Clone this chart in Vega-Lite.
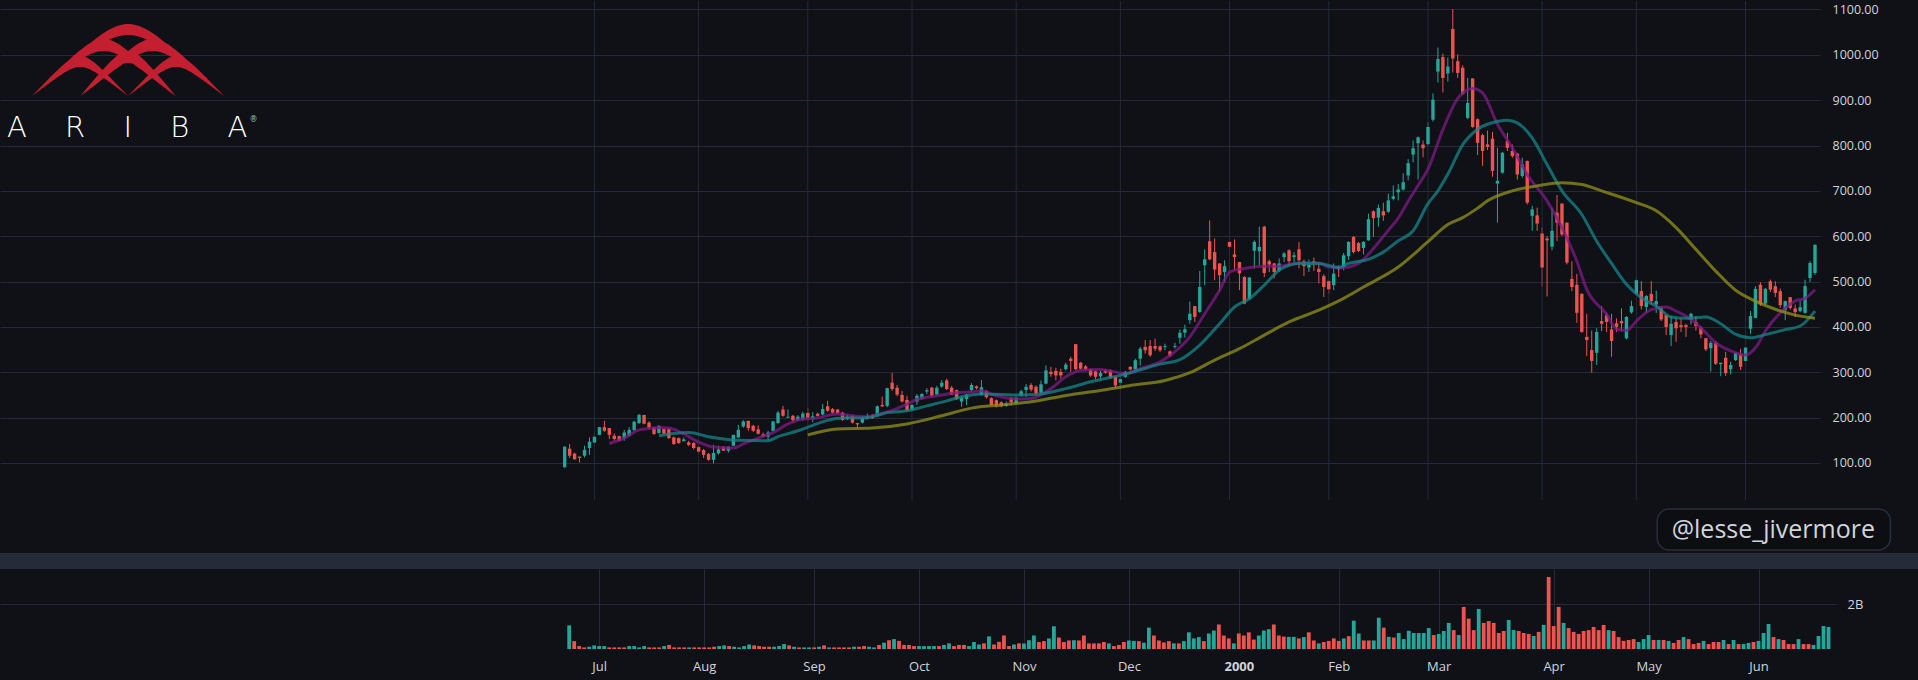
{
  "$schema": "https://vega.github.io/schema/vega-lite/v6.json",
  "background": "#0f1116",
  "padding": 0,
  "spacing": 0,
  "bounds": "flush",
  "config": {
    "view": {"stroke": null},
    "font": "Open Sans",
    "axis": {"domain": false, "ticks": false, "gridColor": "#252a36", "gridWidth": 1, "labelColor": "#d1d4dc", "labelFont": "Open Sans"}
  },
  "datasets": {
    "months": [{"i": 6, "lo": 18.4, "hi": 1118.7}, {"i": 27, "lo": 18.4, "hi": 1118.7}, {"i": 49, "lo": 18.4, "hi": 1118.7}, {"i": 70, "lo": 18.4, "hi": 1118.7}, {"i": 91, "lo": 18.4, "hi": 1118.7}, {"i": 112, "lo": 18.4, "hi": 1118.7}, {"i": 134, "lo": 18.4, "hi": 1118.7}, {"i": 154, "lo": 18.4, "hi": 1118.7}, {"i": 174, "lo": 18.4, "hi": 1118.7}, {"i": 197, "lo": 18.4, "hi": 1118.7}, {"i": 216, "lo": 18.4, "hi": 1118.7}, {"i": 238, "lo": 18.4, "hi": 1118.7}],
    "bars": [
      {"i":0,"o":90.5,"h":136,"l":90,"c":136,"v":1.05},
      {"i":1,"o":131.5,"h":142,"l":111,"c":116,"v":0.35},
      {"i":2,"o":120.5,"h":123,"l":108,"c":108,"v":0.13},
      {"i":3,"o":114,"h":114,"l":101,"c":111,"v":0.07},
      {"i":4,"o":116,"h":138,"l":112,"c":129,"v":0.1},
      {"i":5,"o":133,"h":156.5,"l":118,"c":147,"v":0.16},
      {"i":6,"o":145,"h":166,"l":138,"c":158,"v":0.13},
      {"i":7,"o":162,"h":179,"l":161,"c":179,"v":0.13},
      {"i":8,"o":179,"h":193,"l":168.5,"c":171,"v":0.07},
      {"i":9,"o":177,"h":177,"l":153,"c":162,"v":0.07},
      {"i":10,"o":160,"h":165,"l":149,"c":153,"v":0.07},
      {"i":11,"o":159,"h":160,"l":148,"c":149,"v":0.07},
      {"i":12,"o":154,"h":173,"l":149,"c":167,"v":0.13},
      {"i":13,"o":160,"h":179,"l":158,"c":173,"v":0.13},
      {"i":14,"o":172.5,"h":193,"l":171,"c":191,"v":0.07},
      {"i":15,"o":188,"h":208,"l":186,"c":206,"v":0.13},
      {"i":16,"o":206,"h":206,"l":185,"c":186.5,"v":0.07},
      {"i":17,"o":189,"h":192,"l":175,"c":178,"v":0.07},
      {"i":18,"o":178,"h":179.5,"l":162,"c":164,"v":0.07},
      {"i":19,"o":166,"h":183,"l":165,"c":182,"v":0.13},
      {"i":20,"o":175.5,"h":177,"l":163,"c":165,"v":0.18},
      {"i":21,"o":175.5,"h":175.5,"l":153,"c":155,"v":0.07},
      {"i":22,"o":156.5,"h":158,"l":140,"c":142,"v":0.07},
      {"i":23,"o":155,"h":156.5,"l":142,"c":144,"v":0.07},
      {"i":24,"o":148,"h":156.5,"l":148,"c":152,"v":0.07},
      {"i":25,"o":145.5,"h":149,"l":137,"c":140,"v":0.07},
      {"i":26,"o":144,"h":146,"l":130,"c":133,"v":0.07},
      {"i":27,"o":135,"h":137.5,"l":122,"c":125,"v":0.07},
      {"i":28,"o":128.5,"h":131,"l":111,"c":118,"v":0.07},
      {"i":29,"o":120,"h":122,"l":105,"c":107,"v":0.1},
      {"i":30,"o":107,"h":140,"l":99,"c":122,"v":0.13},
      {"i":31,"o":121,"h":138,"l":119,"c":130,"v":0.16},
      {"i":32,"o":134.5,"h":137.5,"l":127,"c":127,"v":0.13},
      {"i":33,"o":127,"h":136,"l":123,"c":136,"v":0.1},
      {"i":34,"o":138,"h":162,"l":138,"c":162,"v":0.07},
      {"i":35,"o":156.5,"h":184,"l":155,"c":173,"v":0.13},
      {"i":36,"o":180.5,"h":194.5,"l":177.5,"c":191.5,"v":0.2},
      {"i":37,"o":193,"h":193,"l":171,"c":177,"v":0.16},
      {"i":38,"o":182,"h":184,"l":168.5,"c":171,"v":0.13},
      {"i":39,"o":174,"h":183,"l":163,"c":164.5,"v":0.1},
      {"i":40,"o":163,"h":167,"l":156.5,"c":158,"v":0.1},
      {"i":41,"o":158,"h":171,"l":149,"c":167,"v":0.1},
      {"i":42,"o":171,"h":193,"l":169.5,"c":191.5,"v":0.13},
      {"i":43,"o":188,"h":215,"l":186.5,"c":211,"v":0.22},
      {"i":44,"o":218,"h":226,"l":202,"c":204,"v":0.16},
      {"i":45,"o":200,"h":218,"l":199,"c":202,"v":0.1},
      {"i":46,"o":204,"h":206,"l":189,"c":194.5,"v":0.07},
      {"i":47,"o":194.5,"h":205.5,"l":193,"c":202,"v":0.07},
      {"i":48,"o":197,"h":213,"l":193,"c":209,"v":0.07},
      {"i":49,"o":210.5,"h":221,"l":193,"c":199,"v":0.07},
      {"i":50,"o":198,"h":212,"l":190,"c":203,"v":0.1},
      {"i":51,"o":208.5,"h":211,"l":202,"c":204,"v":0.16},
      {"i":52,"o":207,"h":230,"l":205,"c":219,"v":0.07},
      {"i":53,"o":225,"h":237,"l":213,"c":215,"v":0.07},
      {"i":54,"o":219,"h":221,"l":209,"c":211,"v":0.07},
      {"i":55,"o":218,"h":218,"l":209,"c":210,"v":0.07},
      {"i":56,"o":211,"h":213,"l":193,"c":195,"v":0.07},
      {"i":57,"o":198,"h":207.5,"l":195,"c":202,"v":0.1},
      {"i":58,"o":204,"h":206,"l":187,"c":189,"v":0.1},
      {"i":59,"o":188,"h":188,"l":178,"c":185,"v":0.13},
      {"i":60,"o":189,"h":204,"l":187,"c":198.5,"v":0.1},
      {"i":61,"o":198.5,"h":209,"l":196,"c":204,"v":0.07},
      {"i":62,"o":204,"h":208,"l":197,"c":199,"v":0.18},
      {"i":63,"o":204,"h":227,"l":202,"c":225,"v":0.28},
      {"i":64,"o":228,"h":246.5,"l":223,"c":225,"v":0.39},
      {"i":65,"o":226,"h":266,"l":223,"c":265,"v":0.44},
      {"i":66,"o":277,"h":298.5,"l":259,"c":263,"v":0.36},
      {"i":67,"o":266,"h":272,"l":247,"c":251,"v":0.18},
      {"i":68,"o":250,"h":259,"l":233.5,"c":235.5,"v":0.18},
      {"i":69,"o":239,"h":248,"l":213.5,"c":216.5,"v":0.13},
      {"i":70,"o":217.5,"h":229.5,"l":214,"c":228,"v":0.13},
      {"i":71,"o":235.5,"h":252,"l":228,"c":248,"v":0.13},
      {"i":72,"o":242,"h":254,"l":240,"c":252,"v":0.13},
      {"i":73,"o":257.5,"h":265,"l":252,"c":260.5,"v":0.13},
      {"i":74,"o":266,"h":268,"l":246,"c":248,"v":0.13},
      {"i":75,"o":251,"h":270,"l":250,"c":266,"v":0.18},
      {"i":76,"o":268.5,"h":283,"l":266,"c":277,"v":0.25},
      {"i":77,"o":282,"h":286,"l":261,"c":263,"v":0.13},
      {"i":78,"o":266,"h":270,"l":250,"c":251,"v":0.18},
      {"i":79,"o":260.5,"h":262,"l":238.5,"c":241,"v":0.18},
      {"i":80,"o":235.5,"h":248,"l":224,"c":244,"v":0.13},
      {"i":81,"o":241,"h":252,"l":227.5,"c":250.5,"v":0.31},
      {"i":82,"o":261,"h":276,"l":257.5,"c":272,"v":0.2},
      {"i":83,"o":269,"h":271,"l":262,"c":265,"v":0.25},
      {"i":84,"o":250,"h":283,"l":249,"c":267,"v":0.56},
      {"i":85,"o":258,"h":260.5,"l":242,"c":245,"v":0.2},
      {"i":86,"o":243,"h":245,"l":227,"c":228,"v":0.32},
      {"i":87,"o":238.5,"h":240,"l":222.5,"c":227,"v":0.6},
      {"i":88,"o":234,"h":235.5,"l":223,"c":225.5,"v":0.13},
      {"i":89,"o":226,"h":235.5,"l":224,"c":230,"v":0.2},
      {"i":90,"o":243,"h":245,"l":227,"c":234,"v":0.25},
      {"i":91,"o":232,"h":250,"l":229,"c":244,"v":0.25},
      {"i":92,"o":249,"h":261.5,"l":247,"c":258,"v":0.39},
      {"i":93,"o":261,"h":274,"l":246,"c":268,"v":0.6},
      {"i":94,"o":272,"h":276,"l":257.5,"c":262,"v":0.31},
      {"i":95,"o":268,"h":271,"l":251,"c":254,"v":0.35},
      {"i":96,"o":255,"h":282,"l":253,"c":273.5,"v":0.47},
      {"i":97,"o":275,"h":315,"l":273.5,"c":304,"v":1.01},
      {"i":98,"o":301,"h":312,"l":290,"c":296,"v":0.51},
      {"i":99,"o":303,"h":310,"l":282,"c":293,"v":0.31},
      {"i":100,"o":301,"h":308,"l":286,"c":293,"v":0.38},
      {"i":101,"o":307,"h":321,"l":304,"c":317,"v":0.39},
      {"i":102,"o":330,"h":334,"l":301,"c":325,"v":0.38},
      {"i":103,"o":362,"h":362,"l":304,"c":307,"v":0.6},
      {"i":104,"o":321,"h":323,"l":306,"c":308,"v":0.25},
      {"i":105,"o":313,"h":316,"l":303,"c":306,"v":0.25},
      {"i":106,"o":307,"h":308,"l":290,"c":293,"v":0.25},
      {"i":107,"o":302,"h":304,"l":285,"c":290,"v":0.31},
      {"i":108,"o":291,"h":303,"l":284,"c":298.5,"v":0.25},
      {"i":109,"o":304,"h":306,"l":297,"c":299,"v":0.13},
      {"i":110,"o":304,"h":306,"l":286,"c":288,"v":0.18},
      {"i":111,"o":290,"h":291,"l":264,"c":271,"v":0.31},
      {"i":112,"o":277,"h":290,"l":262.5,"c":285,"v":0.38},
      {"i":113,"o":290,"h":303,"l":288,"c":301,"v":0.36},
      {"i":114,"o":312,"h":313,"l":304,"c":306,"v":0.35},
      {"i":115,"o":306,"h":330,"l":304,"c":326.5,"v":0.28},
      {"i":116,"o":330,"h":356,"l":315,"c":352,"v":0.95},
      {"i":117,"o":356,"h":371,"l":341,"c":348.5,"v":0.6},
      {"i":118,"o":358,"h":371,"l":334,"c":337.5,"v":0.38},
      {"i":119,"o":358,"h":374,"l":347,"c":352,"v":0.29},
      {"i":120,"o":357,"h":359,"l":345,"c":348.5,"v":0.35},
      {"i":121,"o":356,"h":363,"l":348.5,"c":358,"v":0.25},
      {"i":122,"o":346,"h":348,"l":334,"c":336,"v":0.25},
      {"i":123,"o":356,"h":365,"l":352,"c":358,"v":0.35},
      {"i":124,"o":376,"h":394,"l":363,"c":387,"v":0.74},
      {"i":125,"o":387.5,"h":405,"l":376.5,"c":395,"v":0.47},
      {"i":126,"o":415,"h":456,"l":407,"c":429,"v":0.53},
      {"i":127,"o":446,"h":446,"l":411,"c":422,"v":0.35},
      {"i":128,"o":433,"h":523.5,"l":431,"c":488,"v":0.69},
      {"i":129,"o":536,"h":571,"l":492,"c":549,"v":0.82},
      {"i":130,"o":589,"h":635,"l":547,"c":549,"v":1.09},
      {"i":131,"o":565,"h":595,"l":503,"c":526.5,"v":0.6},
      {"i":132,"o":540,"h":540,"l":479,"c":514,"v":0.47},
      {"i":133,"o":521,"h":547,"l":499,"c":534,"v":0.25},
      {"i":134,"o":587.5,"h":587.5,"l":480,"c":576.5,"v":0.69},
      {"i":135,"o":560,"h":593,"l":525,"c":554,"v":0.6},
      {"i":136,"o":543,"h":543,"l":481,"c":518,"v":0.74},
      {"i":137,"o":510,"h":512,"l":450,"c":451.5,"v":0.42},
      {"i":138,"o":462.5,"h":510,"l":460,"c":509,"v":0.6},
      {"i":139,"o":568,"h":591,"l":529,"c":587.5,"v":0.82},
      {"i":140,"o":567,"h":621,"l":536,"c":576.5,"v":0.88},
      {"i":141,"o":621,"h":623,"l":510,"c":519,"v":1.09},
      {"i":142,"o":545,"h":548.5,"l":521,"c":537.5,"v":0.6},
      {"i":143,"o":540,"h":541,"l":507,"c":521,"v":0.55},
      {"i":144,"o":525,"h":551,"l":521,"c":540,"v":0.54},
      {"i":145,"o":554,"h":565,"l":543,"c":562,"v":0.54},
      {"i":146,"o":569,"h":571,"l":534,"c":545,"v":0.47},
      {"i":147,"o":554,"h":565,"l":543,"c":558,"v":0.53},
      {"i":148,"o":571,"h":587.5,"l":529,"c":547,"v":0.74},
      {"i":149,"o":545,"h":548.5,"l":512,"c":534,"v":0.38},
      {"i":150,"o":531,"h":548.5,"l":521,"c":537.5,"v":0.25},
      {"i":151,"o":545,"h":553,"l":523.5,"c":540,"v":0.31},
      {"i":152,"o":528,"h":540,"l":496,"c":521,"v":0.36},
      {"i":153,"o":512,"h":516,"l":466,"c":488,"v":0.47},
      {"i":154,"o":501,"h":503,"l":473.5,"c":483,"v":0.36},
      {"i":155,"o":492,"h":540,"l":481,"c":517.5,"v":0.47},
      {"i":156,"o":532,"h":536,"l":510,"c":527,"v":0.57},
      {"i":157,"o":532,"h":563,"l":525,"c":558,"v":1.26},
      {"i":158,"o":556,"h":589,"l":547,"c":587.5,"v":0.69},
      {"i":159,"o":598.5,"h":600,"l":562,"c":565,"v":0.38},
      {"i":160,"o":585,"h":587.5,"l":565,"c":567.5,"v":0.38},
      {"i":161,"o":574,"h":589,"l":560,"c":587.5,"v":0.38},
      {"i":162,"o":591,"h":650,"l":590,"c":637.5,"v":1.39},
      {"i":163,"o":655,"h":657,"l":598.5,"c":640,"v":0.95},
      {"i":164,"o":641,"h":670,"l":621,"c":662.5,"v":0.54},
      {"i":165,"o":655,"h":674,"l":634,"c":646,"v":0.51},
      {"i":166,"o":654,"h":694,"l":651.5,"c":679,"v":0.71},
      {"i":167,"o":682.4,"h":712,"l":679,"c":688,"v":0.44},
      {"i":168,"o":697,"h":715,"l":679,"c":703,"v":0.81},
      {"i":169,"o":703,"h":739,"l":701,"c":719,"v":0.71},
      {"i":170,"o":734,"h":770,"l":723,"c":761,"v":0.71},
      {"i":171,"o":780,"h":811,"l":763,"c":794,"v":0.71},
      {"i":172,"o":805,"h":820,"l":725,"c":818,"v":0.93},
      {"i":173,"o":802,"h":811,"l":774,"c":794,"v":0.62},
      {"i":174,"o":803,"h":851,"l":800,"c":841,"v":0.67},
      {"i":175,"o":857,"h":915,"l":853,"c":901,"v":0.8},
      {"i":176,"o":963,"h":1016,"l":939,"c":991,"v":1.16},
      {"i":177,"o":995,"h":1003,"l":917,"c":949,"v":0.84},
      {"i":178,"o":959,"h":994,"l":941,"c":974,"v":0.62},
      {"i":179,"o":1057,"h":1101,"l":961,"c":992,"v":1.87},
      {"i":180,"o":986,"h":1001,"l":949,"c":960,"v":1.35},
      {"i":181,"o":971.5,"h":977,"l":911,"c":914,"v":0.84},
      {"i":182,"o":861,"h":949,"l":858,"c":894,"v":1.78},
      {"i":183,"o":948,"h":948,"l":839,"c":841,"v":1.16},
      {"i":184,"o":858,"h":860,"l":779,"c":806,"v":1.24},
      {"i":185,"o":823,"h":826,"l":755,"c":788,"v":1.16},
      {"i":186,"o":802.5,"h":833,"l":790,"c":797,"v":0.71},
      {"i":187,"o":815,"h":830,"l":731,"c":744,"v":0.8},
      {"i":188,"o":716,"h":795,"l":630,"c":722,"v":1.29},
      {"i":189,"o":740,"h":786,"l":738,"c":784,"v":0.84},
      {"i":190,"o":810,"h":828,"l":788,"c":795,"v":0.8},
      {"i":191,"o":788,"h":802.5,"l":773,"c":777,"v":0.71},
      {"i":192,"o":782,"h":784,"l":725,"c":736,"v":0.67},
      {"i":193,"o":733,"h":773,"l":729,"c":758.5,"v":0.58},
      {"i":194,"o":766,"h":767,"l":670,"c":674,"v":0.76},
      {"i":195,"o":645,"h":667,"l":612,"c":659,"v":1.07},
      {"i":196,"o":646,"h":663,"l":612,"c":628,"v":3.2},
      {"i":197,"o":606,"h":619,"l":489,"c":531,"v":1.02},
      {"i":198,"o":595,"h":600,"l":467,"c":591,"v":1.87},
      {"i":199,"o":577,"h":663,"l":569,"c":612,"v":1.16},
      {"i":200,"o":652,"h":691,"l":589.5,"c":630,"v":0.93},
      {"i":201,"o":672,"h":672,"l":600.5,"c":604,"v":0.76},
      {"i":202,"o":630,"h":630,"l":538,"c":542,"v":0.67},
      {"i":203,"o":506,"h":545,"l":479,"c":488,"v":0.8},
      {"i":204,"o":493,"h":517,"l":409,"c":431,"v":0.84},
      {"i":205,"o":473,"h":474,"l":387,"c":389,"v":0.98},
      {"i":206,"o":378,"h":429,"l":336,"c":371,"v":0.84},
      {"i":207,"o":349,"h":392,"l":299,"c":325,"v":1.07},
      {"i":208,"o":343,"h":397,"l":316,"c":389,"v":0.84},
      {"i":209,"o":413,"h":446,"l":391,"c":407,"v":0.8},
      {"i":210,"o":426,"h":431,"l":389,"c":411,"v":0.53},
      {"i":211,"o":394.5,"h":429,"l":334,"c":369,"v":0.36},
      {"i":212,"o":408,"h":419,"l":389,"c":400,"v":0.4},
      {"i":213,"o":413,"h":441,"l":391,"c":408,"v":0.44},
      {"i":214,"o":375,"h":424,"l":372.5,"c":422,"v":0.31},
      {"i":215,"o":432,"h":458,"l":429,"c":446,"v":0.44},
      {"i":216,"o":473,"h":509.5,"l":470,"c":503,"v":0.62},
      {"i":217,"o":479,"h":501,"l":438.5,"c":446,"v":0.4},
      {"i":218,"o":444,"h":470,"l":431,"c":468,"v":0.4},
      {"i":219,"o":473,"h":501,"l":449.5,"c":457,"v":0.4},
      {"i":220,"o":449.5,"h":480,"l":431,"c":457,"v":0.36},
      {"i":221,"o":442,"h":446,"l":413,"c":416.5,"v":0.27},
      {"i":222,"o":426,"h":426,"l":382,"c":400,"v":0.4},
      {"i":223,"o":382,"h":424,"l":358,"c":407,"v":0.53},
      {"i":224,"o":411,"h":420,"l":367,"c":397,"v":0.44},
      {"i":225,"o":404,"h":419,"l":389,"c":400,"v":0.22},
      {"i":226,"o":404,"h":407,"l":378,"c":400,"v":0.27},
      {"i":227,"o":416,"h":431,"l":405.5,"c":429,"v":0.36},
      {"i":228,"o":411,"h":424,"l":392,"c":402,"v":0.22},
      {"i":229,"o":398,"h":402,"l":375,"c":383.5,"v":0.31},
      {"i":230,"o":375,"h":376,"l":347,"c":350.5,"v":0.31},
      {"i":231,"o":353,"h":369,"l":301.5,"c":365,"v":0.4},
      {"i":232,"o":365,"h":369,"l":316,"c":319,"v":0.22},
      {"i":233,"o":318,"h":321,"l":292,"c":321,"v":0.4},
      {"i":234,"o":332,"h":345,"l":292,"c":298,"v":0.22},
      {"i":235,"o":306.6,"h":323.5,"l":295.6,"c":316,"v":0.22},
      {"i":236,"o":327,"h":343,"l":325,"c":343,"v":0.27},
      {"i":237,"o":340,"h":352,"l":305,"c":312,"v":0.31},
      {"i":238,"o":325,"h":356,"l":314,"c":354.6,"v":0.36},
      {"i":239,"o":396,"h":435,"l":385,"c":424,"v":0.71},
      {"i":240,"o":420,"h":490,"l":419,"c":484,"v":1.11},
      {"i":241,"o":493,"h":498.5,"l":446,"c":449.5,"v":0.53},
      {"i":242,"o":451.6,"h":486,"l":448,"c":484,"v":0.44},
      {"i":243,"o":500.7,"h":504.4,"l":477,"c":482.4,"v":0.4},
      {"i":244,"o":489.7,"h":500.7,"l":465.6,"c":475,"v":0.22},
      {"i":245,"o":478.8,"h":484.6,"l":442,"c":448,"v":0.22},
      {"i":246,"o":437,"h":458,"l":415,"c":457,"v":0.44},
      {"i":247,"o":465.6,"h":465.6,"l":438.5,"c":442,"v":0.22},
      {"i":248,"o":440.7,"h":449.5,"l":421.6,"c":432.6,"v":0.22},
      {"i":249,"o":434.8,"h":456.8,"l":432.6,"c":443.6,"v":0.18},
      {"i":250,"o":431,"h":504,"l":429,"c":490,"v":0.58},
      {"i":251,"o":508,"h":545,"l":499,"c":541,"v":1.02},
      {"i":252,"o":519,"h":582,"l":515,"c":581,"v":0.98}
    ],
    "ma": [
      {"s":"p","i":9,"m":143},{"s":"p","i":12,"m":155},{"s":"p","i":15,"m":173},{"s":"p","i":17,"m":176},{"s":"p","i":19,"m":178},{"s":"p","i":21,"m":177},{"s":"p","i":24,"m":164},{"s":"p","i":27,"m":146},{"s":"p","i":30,"m":135},{"s":"p","i":34,"m":133},{"s":"p","i":36,"m":142},{"s":"p","i":39,"m":155},{"s":"p","i":42,"m":167},{"s":"p","i":45,"m":186},{"s":"p","i":48,"m":197},{"s":"p","i":51,"m":199},{"s":"p","i":53,"m":205},{"s":"p","i":55,"m":208},{"s":"p","i":58,"m":204},{"s":"p","i":61,"m":202},{"s":"p","i":63,"m":207},{"s":"p","i":66,"m":216},{"s":"p","i":69,"m":230},{"s":"p","i":71,"m":240},{"s":"p","i":75,"m":248},{"s":"p","i":79,"m":255},{"s":"p","i":82,"m":257},{"s":"p","i":84,"m":259},{"s":"p","i":87,"m":248},{"s":"p","i":90,"m":242},{"s":"p","i":92,"m":241},{"s":"p","i":94,"m":242},{"s":"p","i":98,"m":264},{"s":"p","i":101,"m":290},{"s":"p","i":104,"m":304},{"s":"p","i":108,"m":306},{"s":"p","i":110,"m":303},{"s":"p","i":113,"m":297},{"s":"p","i":116,"m":308},{"s":"p","i":120,"m":323},{"s":"p","i":122,"m":337},{"s":"p","i":126,"m":378},{"s":"p","i":129,"m":429},{"s":"p","i":132,"m":481},{"s":"p","i":134,"m":521},{"s":"p","i":137,"m":529},{"s":"p","i":141,"m":534},{"s":"p","i":144,"m":534},{"s":"p","i":148,"m":541},{"s":"p","i":152,"m":541},{"s":"p","i":154,"m":532},{"s":"p","i":157,"m":531},{"s":"p","i":160,"m":540},{"s":"p","i":163,"m":573},{"s":"p","i":166,"m":613},{"s":"p","i":168,"m":640},{"s":"p","i":170,"m":677},{"s":"p","i":172,"m":712},{"s":"p","i":174,"m":748},{"s":"p","i":177,"m":835},{"s":"p","i":180,"m":904},{"s":"p","i":183,"m":926},{"s":"p","i":185,"m":916},{"s":"p","i":188,"m":847},{"s":"p","i":191,"m":795},{"s":"p","i":194,"m":736},{"s":"p","i":198,"m":678},{"s":"p","i":201,"m":619},{"s":"p","i":204,"m":545},{"s":"p","i":206,"m":483},{"s":"p","i":210,"m":428},{"s":"p","i":212,"m":395},{"s":"p","i":214,"m":392},{"s":"p","i":216,"m":413},{"s":"p","i":219,"m":438},{"s":"p","i":222,"m":444},{"s":"p","i":224,"m":435},{"s":"p","i":226,"m":424},{"s":"p","i":229,"m":398},{"s":"p","i":232,"m":365},{"s":"p","i":235,"m":347},{"s":"p","i":238,"m":338},{"s":"p","i":240,"m":354},{"s":"p","i":242,"m":391},{"s":"p","i":245,"m":431},{"s":"p","i":248,"m":457},{"s":"p","i":250,"m":463},{"s":"p","i":252,"m":482},
      {"s":"t","i":19,"m":160},{"s":"t","i":22,"m":165},{"s":"t","i":25,"m":167},{"s":"t","i":29,"m":158},{"s":"t","i":32,"m":153},{"s":"t","i":35,"m":150},{"s":"t","i":41,"m":149},{"s":"t","i":43,"m":158},{"s":"t","i":47,"m":171},{"s":"t","i":50,"m":183},{"s":"t","i":53,"m":194},{"s":"t","i":56,"m":199},{"s":"t","i":60,"m":199},{"s":"t","i":62,"m":202},{"s":"t","i":65,"m":211},{"s":"t","i":69,"m":215},{"s":"t","i":73,"m":226},{"s":"t","i":77,"m":237},{"s":"t","i":80,"m":246},{"s":"t","i":84,"m":252},{"s":"t","i":88,"m":251},{"s":"t","i":92,"m":250},{"s":"t","i":95,"m":251},{"s":"t","i":101,"m":264},{"s":"t","i":106,"m":279},{"s":"t","i":113,"m":296},{"s":"t","i":120,"m":318},{"s":"t","i":124,"m":328},{"s":"t","i":128,"m":360},{"s":"t","i":132,"m":407},{"s":"t","i":135,"m":444},{"s":"t","i":138,"m":462},{"s":"t","i":141,"m":492},{"s":"t","i":144,"m":525},{"s":"t","i":148,"m":540},{"s":"t","i":152,"m":540},{"s":"t","i":156,"m":531},{"s":"t","i":158,"m":540},{"s":"t","i":162,"m":549},{"s":"t","i":165,"m":565},{"s":"t","i":168,"m":590},{"s":"t","i":171,"m":612},{"s":"t","i":174,"m":672},{"s":"t","i":176,"m":700},{"s":"t","i":178,"m":737},{"s":"t","i":181,"m":802},{"s":"t","i":184,"m":836},{"s":"t","i":188,"m":853},{"s":"t","i":190,"m":856},{"s":"t","i":192,"m":850},{"s":"t","i":195,"m":817},{"s":"t","i":198,"m":758},{"s":"t","i":201,"m":700},{"s":"t","i":205,"m":648},{"s":"t","i":208,"m":589},{"s":"t","i":211,"m":540},{"s":"t","i":214,"m":494},{"s":"t","i":217,"m":464},{"s":"t","i":220,"m":446},{"s":"t","i":223,"m":422},{"s":"t","i":226,"m":419},{"s":"t","i":230,"m":422},{"s":"t","i":233,"m":407},{"s":"t","i":236,"m":384},{"s":"t","i":239,"m":376},{"s":"t","i":242,"m":383},{"s":"t","i":246,"m":394},{"s":"t","i":249,"m":402},{"s":"t","i":252,"m":435},
      {"s":"o","i":49,"m":162},{"s":"o","i":55,"m":175},{"s":"o","i":62,"m":177},{"s":"o","i":69,"m":186},{"s":"o","i":76,"m":204},{"s":"o","i":82,"m":221},{"s":"o","i":88,"m":228},{"s":"o","i":94,"m":235},{"s":"o","i":101,"m":249},{"s":"o","i":108,"m":260},{"s":"o","i":114,"m":271},{"s":"o","i":121,"m":282},{"s":"o","i":126,"m":299},{"s":"o","i":131,"m":327},{"s":"o","i":136,"m":352},{"s":"o","i":141,"m":382},{"s":"o","i":146,"m":411},{"s":"o","i":152,"m":437},{"s":"o","i":157,"m":463},{"s":"o","i":161,"m":488},{"s":"o","i":168,"m":532},{"s":"o","i":174,"m":588},{"s":"o","i":178,"m":626},{"s":"o","i":181,"m":641},{"s":"o","i":184,"m":662},{"s":"o","i":186,"m":678},{"s":"o","i":191,"m":700},{"s":"o","i":196,"m":711},{"s":"o","i":201,"m":718},{"s":"o","i":205,"m":714},{"s":"o","i":209,"m":700},{"s":"o","i":216,"m":674},{"s":"o","i":220,"m":656},{"s":"o","i":224,"m":619},{"s":"o","i":228,"m":571},{"s":"o","i":232,"m":523},{"s":"o","i":236,"m":481},{"s":"o","i":240,"m":457},{"s":"o","i":244,"m":439},{"s":"o","i":248,"m":426},{"s":"o","i":252,"m":419}
    ]
  },
  "vconcat": [
    {
      "width": 1820,
      "height": 552,
      "encoding": {
        "x": {"field": "i", "type": "quantitative", "title": null, "scale": {"domain": [-112.8, 252], "nice": false, "zero": false}, "axis": null}
      },
      "layer": [
        {
          "data": {"name": "bars"},
          "mark": {"type": "rule", "strokeWidth": 1, "clip": true},
          "encoding": {
            "y": {"field": "l", "type": "quantitative", "title": null, "scale": {"domain": [-98.5, 1118.7], "nice": false, "zero": false},
                  "axis": {"orient": "right", "values": [100, 200, 300, 400, 500, 600, 700, 800, 900, 1000, 1100], "format": ".2f", "grid": true, "labelFontSize": 12.5, "labelPadding": 12}},
            "y2": {"field": "h"},
            "color": {"condition": {"test": "datum.c >= datum.o", "value": "#26a69a"}, "value": "#ef5350"}
          }
        },
        {
          "data": {"name": "months"},
          "mark": {"type": "rule", "color": "#252a36", "strokeWidth": 1},
          "encoding": {
            "y": {"field": "lo", "type": "quantitative", "title": null},
            "y2": {"field": "hi"}
          }
        },
        {
          "data": {"name": "bars"},
          "mark": {"type": "bar", "size": 3.4, "clip": true},
          "encoding": {
            "y": {"field": "o", "type": "quantitative", "title": null},
            "y2": {"field": "c"},
            "color": {"condition": {"test": "datum.c >= datum.o", "value": "#26a69a"}, "value": "#ef5350"}
          }
        },
        {
          "data": {"name": "ma"},
          "mark": {"type": "line", "strokeWidth": 3, "opacity": 0.75, "interpolate": "monotone", "clip": true},
          "encoding": {
            "y": {"field": "m", "type": "quantitative", "title": null},
            "color": {"field": "s", "type": "nominal", "legend": null, "scale": {"domain": ["p", "t", "o"], "range": ["#7f1b84", "#15858a", "#92921a"]}}
          }
        },
        {
          "data": {"values": [{"x1": 220.2, "x2": 267.2, "y1": -1.5, "y2": -91.9}]},
          "mark": {"type": "rect", "fill": "#0c0e12", "stroke": "#2a2e39", "strokeWidth": 1.5, "cornerRadius": 12},
          "encoding": {
            "x": {"field": "x1", "type": "quantitative"},
            "x2": {"field": "x2"},
            "y": {"field": "y1", "type": "quantitative", "title": null},
            "y2": {"field": "y2"}
          }
        },
        {
          "data": {"values": [{"x": 243.6, "y": -47.8, "t": "@lesse_jivermore"}]},
          "mark": {"type": "text", "font": "Open Sans", "fontSize": 25, "color": "#d1d4dc", "align": "center", "baseline": "middle"},
          "encoding": {
            "x": {"field": "x", "type": "quantitative"},
            "y": {"field": "y", "type": "quantitative", "title": null},
            "text": {"field": "t"}
          }
        },
        {
          "data": {"values": [{"x": -87.98, "y": 988.6}]},
          "mark": {
            "type": "point", "filled": true, "color": "#c41f30", "opacity": 1, "size": 36864,
            "shape": "M-1 0.375C-0.4 -0.1875 -0.2 -0.375 0 -0.375C0.2 -0.375 0.4 -0.1875 1 0.375C0.4 -0.1016 0.2 -0.2604 0 -0.2604C-0.2 -0.2604 -0.4 -0.1016 -1 0.375Z M-1 0.375C-0.553 -0.0703 -0.404 -0.2188 -0.255 -0.2188C-0.106 -0.2188 0.043 -0.0703 0.49 0.375C0.043 0.0234 -0.106 -0.0938 -0.255 -0.0938C-0.404 -0.0938 -0.553 0.0234 -1 0.375Z M-0.49 0.375C-0.043 -0.0703 0.106 -0.2188 0.255 -0.2188C0.404 -0.2188 0.553 -0.0703 1 0.375C0.553 0.0234 0.404 -0.0938 0.255 -0.0938C0.106 -0.0938 -0.043 0.0234 -0.49 0.375Z M-1 0.375C-0.7 0.0625 -0.6 -0.0417 -0.5 -0.0417C-0.4 -0.0417 -0.3 0.0625 0 0.375C-0.3 0.1484 -0.4 0.0729 -0.5 0.0729C-0.6 0.0729 -0.7 0.1484 -1 0.375Z M0 0.375C0.3 0.0625 0.4 -0.0417 0.5 -0.0417C0.6 -0.0417 0.7 0.0625 1 0.375C0.7 0.1484 0.6 0.0729 0.5 0.0729C0.4 0.0729 0.3 0.1484 0 0.375Z M-0.5 0.375C-0.2 0.0234 -0.1 -0.0938 0 -0.0938C0.1 -0.0938 0.2 0.0234 0.5 0.375C0.2 0.1172 0.1 0.0313 0 0.0313C-0.1 0.0313 -0.2 0.1172 -0.5 0.375Z"
          },
          "encoding": {
            "x": {"field": "x", "type": "quantitative"},
            "y": {"field": "y", "type": "quantitative", "title": null}
          }
        },
        {
          "data": {"values": [{"x": -112.4, "y": 818.8, "t": "A\u2003 R\u2003 I\u2003 B\u2003 A"}]},
          "mark": {"type": "text", "font": "DejaVu Sans", "fontWeight": 200, "fontSize": 29, "color": "#ffffff", "align": "left", "baseline": "alphabetic"},
          "encoding": {
            "x": {"field": "x", "type": "quantitative"},
            "y": {"field": "y", "type": "quantitative", "title": null},
            "text": {"field": "t"}
          }
        },
        {
          "data": {"values": [{"x": -63.5, "y": 856.3, "t": "®"}]},
          "mark": {"type": "text", "font": "DejaVu Sans", "fontSize": 8, "color": "#bbbbbb", "align": "left", "baseline": "middle"},
          "encoding": {
            "x": {"field": "x", "type": "quantitative"},
            "y": {"field": "y", "type": "quantitative", "title": null},
            "text": {"field": "t"}
          }
        }
      ]
    },
    {
      "width": 1918,
      "height": 16,
      "data": {"values": [{"a": 0, "b": 1}]},
      "mark": {"type": "rect", "color": "#262b3a"},
      "encoding": {
        "x": {"field": "a", "type": "quantitative", "scale": {"domain": [0, 1], "nice": false}, "axis": null},
        "x2": {"field": "b"},
        "y": {"field": "a", "type": "quantitative", "scale": {"domain": [0, 1], "nice": false}, "axis": null},
        "y2": {"field": "b"}
      }
    },
    {
      "width": 1836,
      "height": 80,
      "data": {"name": "bars"},
      "mark": {"type": "bar", "size": 3.8},
      "encoding": {
        "x": {
          "field": "i", "type": "quantitative", "title": null,
          "scale": {"domain": [-112.9, 252.5], "nice": false, "zero": false},
          "axis": {
            "orient": "bottom", "grid": true, "values": [6, 27, 49, 70, 91, 112, 134, 154, 174, 197, 216, 238],
            "labelExpr": "datum.value==6?'Jul':datum.value==27?'Aug':datum.value==49?'Sep':datum.value==70?'Oct':datum.value==91?'Nov':datum.value==112?'Dec':datum.value==134?'2000':datum.value==154?'Feb':datum.value==174?'Mar':datum.value==197?'Apr':datum.value==216?'May':'Jun'",
            "labelFontSize": 13, "labelPadding": 11, "minExtent": 32,
            "labelFontWeight": {"condition": {"test": "datum.value == 134", "value": "bold"}, "value": "normal"}
          }
        },
        "y": {
          "field": "v", "type": "quantitative", "title": null,
          "scale": {"domain": [0, 3.556], "nice": false, "zero": true},
          "axis": {"orient": "right", "values": [2], "labelExpr": "'2B'", "grid": true, "labelFontSize": 13, "labelPadding": 11}
        },
        "color": {"condition": {"test": "datum.c >= datum.o", "value": "#26a69a"}, "value": "#ef5350"}
      }
    }
  ]
}
